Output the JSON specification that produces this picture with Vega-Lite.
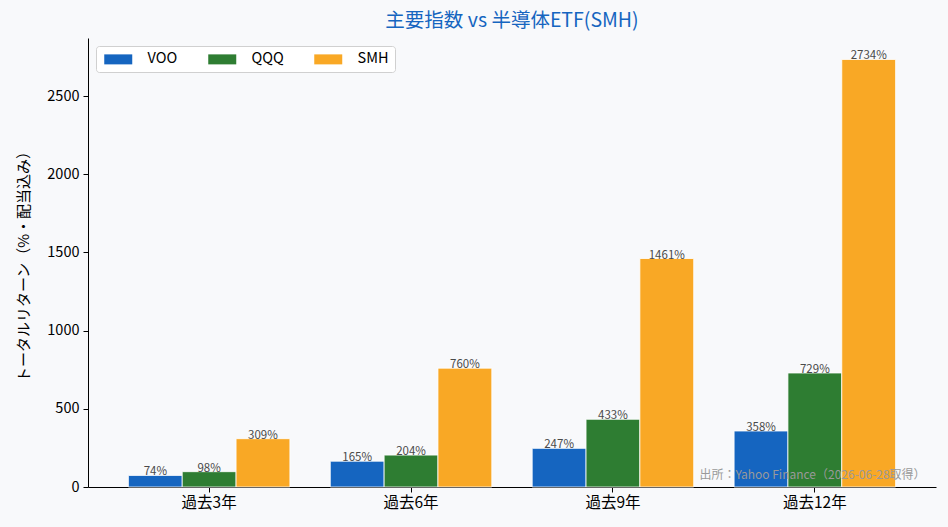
{
  "$schema": "https://vega.github.io/schema/vega-lite/v6.json",
  "width": 848,
  "height": 449,
  "autosize": {"type": "none"},
  "padding": {"left": 88, "top": 38, "right": 12, "bottom": 40},
  "background": "#f8f9fb",
  "title": {
    "text": "主要指数 vs 半導体ETF(SMH)",
    "color": "#1565c0",
    "fontSize": 19.5,
    "fontWeight": "normal",
    "font": "Noto Sans CJK JP",
    "anchor": "middle",
    "offset": 7
  },
  "config": {
    "view": {"stroke": null},
    "font": "Noto Sans CJK JP",
    "axis": {
      "labelFont": "Noto Sans CJK JP",
      "titleFont": "Noto Sans CJK JP",
      "labelColor": "#000000",
      "titleColor": "#000000",
      "domainColor": "#000000",
      "tickColor": "#000000",
      "labelFontSize": 14.5,
      "titleFontSize": 15,
      "titleFontWeight": "normal",
      "tickSize": 5,
      "grid": false
    }
  },
  "data": {
    "values": [
      {"period": "過去3年", "series": "VOO", "value": 74, "label": "74%"},
      {"period": "過去3年", "series": "QQQ", "value": 98, "label": "98%"},
      {"period": "過去3年", "series": "SMH", "value": 309, "label": "309%"},
      {"period": "過去6年", "series": "VOO", "value": 165, "label": "165%"},
      {"period": "過去6年", "series": "QQQ", "value": 204, "label": "204%"},
      {"period": "過去6年", "series": "SMH", "value": 760, "label": "760%"},
      {"period": "過去9年", "series": "VOO", "value": 247, "label": "247%"},
      {"period": "過去9年", "series": "QQQ", "value": 433, "label": "433%"},
      {"period": "過去9年", "series": "SMH", "value": 1461, "label": "1461%"},
      {"period": "過去12年", "series": "VOO", "value": 358, "label": "358%"},
      {"period": "過去12年", "series": "QQQ", "value": 729, "label": "729%"},
      {"period": "過去12年", "series": "SMH", "value": 2734, "label": "2734%"}
    ]
  },
  "encoding": {
    "x": {
      "field": "period",
      "type": "nominal",
      "sort": ["過去3年", "過去6年", "過去9年", "過去12年"],
      "scale": {"paddingInner": 0.2, "paddingOuter": 0.2},
      "axis": {"title": null, "labelAngle": 0, "labelPadding": 3, "labelFontSize": 15.5}
    },
    "y": {
      "field": "value",
      "type": "quantitative",
      "scale": {"domain": [0, 2871], "nice": false},
      "axis": {
        "title": "トータルリターン（%・配当込み）",
        "values": [0, 500, 1000, 1500, 2000, 2500],
        "format": "d",
        "titlePadding": 15,
        "labelPadding": 4
      }
    }
  },
  "layer": [
    {
      "mark": {"type": "bar", "stroke": "#ffffff", "strokeWidth": 0.8},
      "encoding": {
        "xOffset": {
          "field": "series",
          "type": "nominal",
          "sort": ["VOO", "QQQ", "SMH"],
          "scale": {"paddingInner": 0, "paddingOuter": 0}
        },
        "color": {
          "field": "series",
          "type": "nominal",
          "sort": ["VOO", "QQQ", "SMH"],
          "scale": {"domain": ["VOO", "QQQ", "SMH"], "range": ["#1565c0", "#2e7d32", "#f9a825"]},
          "legend": {
            "title": null,
            "orient": "top-left",
            "offset": 8,
            "direction": "horizontal",
            "columns": 3,
            "symbolType": "M-1,-1H4.6V1H-1Z",
            "symbolSize": 100,
            "symbolStrokeWidth": 0,
            "labelOffset": 31,
            "labelFontSize": 14.5,
            "labelFont": "Noto Sans CJK JP",
            "labelColor": "#000000",
            "columnPadding": 28,
            "padding": 6,
            "fillColor": "#ffffff",
            "strokeColor": "#d0d0d0",
            "cornerRadius": 3
          }
        }
      }
    },
    {
      "mark": {"type": "text", "baseline": "bottom", "align": "center", "fontSize": 11.5, "color": "#4a4a4a", "dy": 2},
      "encoding": {
        "xOffset": {
          "field": "series",
          "type": "nominal",
          "sort": ["VOO", "QQQ", "SMH"],
          "scale": {"paddingInner": 0, "paddingOuter": 0}
        },
        "text": {"field": "label", "type": "nominal"}
      }
    },
    {
      "data": {"values": [{"period": "過去12年", "value": 77, "note": "出所：Yahoo Finance（2026-06-28取得）"}]},
      "mark": {"type": "text", "align": "right", "baseline": "middle", "fontSize": 12, "color": "#999999", "dx": 30},
      "encoding": {
        "x": {"field": "period", "type": "nominal", "bandPosition": 1},
        "text": {"field": "note", "type": "nominal"}
      }
    }
  ]
}
